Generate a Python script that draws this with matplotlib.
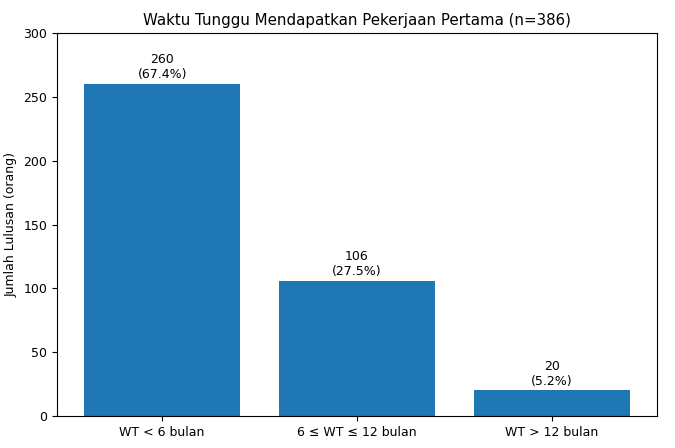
import matplotlib
matplotlib.use("Agg")
import matplotlib.pyplot as plt

# Data
categories = ["WT < 6 bulan", "6 \u2264 WT \u2264 12 bulan", "WT > 12 bulan"]
counts = [260, 106, 20]
percents = [67.4, 27.5, 5.2]
total = 386

plt.rcParams["font.size"] = 9
fig, ax = plt.subplots(figsize=(6.75, 4.48), dpi=100)
fig.subplots_adjust(left=0.0844, right=0.973, bottom=0.0714, top=0.926)

bars = ax.bar(categories, counts, color="#1f77b4", width=0.8)

# Count and percentage labels above each bar
for bar, n, p in zip(bars, counts, percents):
    ax.annotate(f"{n}\n({p}%)", xy=(bar.get_x() + bar.get_width() / 2, bar.get_height()),
                xytext=(0, 2), textcoords="offset points", ha="center", va="bottom", fontsize=9)

ax.set_ylim(0, 300)
ax.tick_params(labelsize=9)
ax.set_ylabel("Jumlah Lulusan (orang)", fontsize=9)
ax.set_title(f"Waktu Tunggu Mendapatkan Pekerjaan Pertama (n={total})", fontsize=10.8)

plt.savefig("out.png", dpi=100)
plt.close()
